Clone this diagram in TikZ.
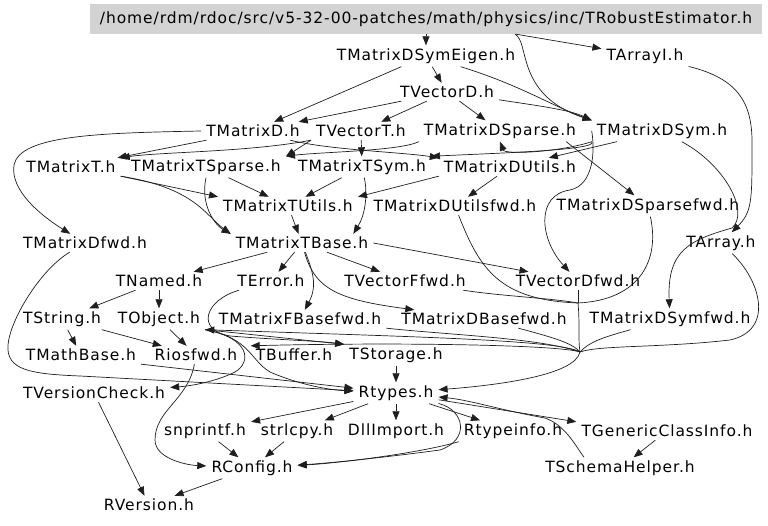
\documentclass[tikz,border=0pt]{standalone}
\usepackage{fontspec}
\usepackage{tikz}
\usetikzlibrary{arrows.meta}
\newfontfamily\dgfont[LetterSpace=6]{DejaVu Sans}
\definecolor{hdrgray}{RGB}{211,211,211}
\definecolor{lngray}{RGB}{30,30,30}

\begin{document}
\begin{tikzpicture}[
  x=1pt, y=-1pt,
  font=\fontsize{15.5}{18}\dgfont,
  fn/.style={inner xsep=5pt, inner ysep=3pt},
  hdr/.style={fn, fill=hdrgray, minimum width=672pt, minimum height=30pt},
  dep/.style={draw=lngray, line width=0.7pt, -{Triangle[length=9pt,width=7pt]}},
  dline/.style={draw=lngray, line width=0.7pt}
]
\useasboundingbox (0,0) rectangle (768,526);

\node[hdr] (root) at (426,19) {/home/rdm/rdoc/src/v5-32-00-patches/math/physics/inc/TRobustEstimator.h};
\node[fn] (dsymeig) at (426,56) {TMatrixDSymEigen.h};
\node[fn] (tarrayi) at (645,56) {TArrayI.h};
\node[fn] (vecd) at (447,92) {TVectorD.h};
\node[fn] (matd) at (253,131) {TMatrixD.h};
\node[fn] (vect) at (361,131) {TVectorT.h};
\node[fn] (dsparse) at (500,131) {TMatrixDSparse.h};
\node[fn] (dsym) at (662,131) {TMatrixDSym.h};
\node[fn] (matt) at (71,167) {TMatrixT.h};
\node[fn] (tsparse) at (206,167) {TMatrixTSparse.h};
\node[fn] (tsym) at (362,167) {TMatrixTSym.h};
\node[fn] (dutils) at (510,167) {TMatrixDUtils.h};
\node[fn] (tutils) at (288,206) {TMatrixTUtils.h};
\node[fn] (dutilsfwd) at (455,206) {TMatrixDUtilsfwd.h};
\node[fn] (dsparsefwd) at (648,206) {TMatrixDSparsefwd.h};
\node[fn] (dfwd) at (85,243) {TMatrixDfwd.h};
\node[fn] (tbase) at (302,243) {TMatrixTBase.h};
\node[fn] (tarray) at (721,243) {TArray.h};
\node[fn] (tnamed) at (159,281) {TNamed.h};
\node[fn] (terror) at (271,281) {TError.h};
\node[fn] (vecffwd) at (405,281) {TVectorFfwd.h};
\node[fn] (vecdfwd) at (578,281) {TVectorDfwd.h};
\node[fn] (tstring) at (62,319) {TString.h};
\node[fn] (tobject) at (159,319) {TObject.h};
\node[fn] (fbasefwd) at (300,319) {TMatrixFBasefwd.h};
\node[fn] (dbasefwd) at (484,319) {TMatrixDBasefwd.h};
\node[fn] (dsymfwd) at (670,319) {TMatrixDSymfwd.h};
\node[fn] (mathbase) at (81,355) {TMathBase.h};
\node[fn] (riosfwd) at (196,355) {Riosfwd.h};
\node[fn] (tbuffer) at (294,355) {TBuffer.h};
\node[fn] (tstorage) at (396,355) {TStorage.h};
\node[fn] (vcheck) at (94,393) {TVersionCheck.h};
\node[fn] (rtypes) at (396,393) {Rtypes.h};
\node[fn] (snprintf) at (205,431) {snprintf.h};
\node[fn] (strlcpy) at (297,431) {strlcpy.h};
\node[fn] (dllimport) at (396,431) {DllImport.h};
\node[fn] (rtypeinfo) at (513,431) {Rtypeinfo.h};
\node[fn] (genclass) at (667,431) {TGenericClassInfo.h};
\node[fn] (rconfig) at (252,468) {RConfig.h};
\node[fn] (schema) at (620,468) {TSchemaHelper.h};
\node[fn] (rversion) at (149,505) {RVersion.h};

% top ranks
\draw[dep] (root) -- (dsymeig);
\draw[dep] (root) -- (tarrayi);
\draw[dep] ([xshift=89pt]root.south) .. controls (530,42) and (515,95) .. (dsym.north west);
\draw[dep] (dsymeig) -- (matd);
\draw[dep] (dsymeig) -- (vecd);
\draw[dep] (dsymeig) .. controls (520,85) and (550,105) .. (dsym.north west);
\draw[dep] (vecd) -- (matd);
\draw[dep] (vecd) -- (vect);
\draw[dep] (vecd) -- (dsparse);
\draw[dep] (vecd) .. controls (540,106) and (570,110) .. (dsym.north west);
\draw[dep] (tarrayi) .. controls (745,80) and (753,110) .. (752,150) .. controls (752,200) and (752,212) .. (tarray);
\draw[dep] (dsym) .. controls (725,165) and (750,212) .. (732,228) .. controls (690,240) and (667,250) .. (dsymfwd);

\draw[dep] (matd) -- (matt);
\draw[dep] (matd.west) .. controls (100,133) and (20,135) .. (14,165) .. controls (10,190) and (40,215) .. (dfwd);
\draw[dep] (matd) .. controls (330,150) and (400,152) .. (dutils.north west);
\draw[dep] (vect.south west) .. controls (250,152) and (160,152) .. (matt.north east);
\draw[dep] (vect.south west) -- (tsparse.north east);
\draw[dep] (vect) -- (tsym);
\draw[dep] (dsparse.south west) .. controls (400,151) and (320,152) .. (tsparse.north east);
\draw[dep] ([xshift=-15pt]dsparse.south east) -- (dsparsefwd);
\draw[dep] (dsym.south west) .. controls (600,150) and (500,153) .. (tsym.north east);
\draw[dep] (dsym.south west) .. controls (560,152) and (505,155) .. (dsparse.south);
\draw[dep] (dsym) -- (dutils);
\draw[dep] (dsym.west) .. controls (595,150) and (594,185) .. (570,190) .. controls (535,195) and (540,240) .. (vecdfwd);

\draw[dep] (matt.south east) -- (tutils.north west);
\draw[dep] (matt.south east) .. controls (195,188) and (205,215) .. (tbase.north west);
\draw[dep] (tsparse) -- (tutils);
\draw[dep] (tsparse.south) .. controls (200,205) and (215,225) .. (tbase.north west);
\draw[dep] (tsym) -- (tutils);
\draw[dep] (tsym) .. controls (368,195) and (365,215) .. ([xshift=-20pt]tbase.north east);
\draw[dep] (dutils) -- (dutilsfwd);
\draw[dep] (dutils.south west) -- (tutils.north east);
\draw[dep] (tutils) -- (tbase);

% matrix base
\draw[dep] (tbase) -- (tnamed);
\draw[dep] (tbase) -- (terror);
\draw[dep] (tbase) -- (vecffwd);
\draw[dep] (tbase.east) -- (vecdfwd);
\draw[dep] (tbase) .. controls (312,270) and (318,285) .. (fbasefwd);
\draw[dep] (tbase) .. controls (315,290) and (340,300) .. (dbasefwd);

% forward headers merge into Rtypes
\coordinate (trunk) at (578,303);
\coordinate (mrg) at (580,352);
\draw[dline] (dutilsfwd) .. controls (480,270) and (500,300) .. (trunk);
\draw[dline] (vecffwd) .. controls (500,296) and (550,298) .. (trunk);
\draw[dline] (vecdfwd) -- (trunk);
\draw[dline] (dsparsefwd) .. controls (660,260) and (640,300) .. (trunk);
\draw[dline] (trunk) .. controls (580,325) and (578,340) .. (mrg);
\draw[dline] (dbasefwd) .. controls (555,338) and (572,343) .. (mrg);
\draw[dline] (dsymfwd) .. controls (600,338) and (588,343) .. (mrg);
\draw[dline] (tarray) .. controls (760,280) and (775,330) .. (730,340) .. controls (660,348) and (600,345) .. (mrg);
\draw[dline] (fbasefwd) .. controls (450,335) and (540,338) .. (mrg);
\draw[dep] (mrg) .. controls (575,375) and (500,385) .. (rtypes);
\draw[dep] (mrg) .. controls (560,340) and (420,337) .. (tobject.south east);
\draw[dep] (mrg) .. controls (560,345) and (400,342) .. (tbuffer.north west);

% core
\draw[dep] (tnamed) -- (tstring);
\draw[dep] (tnamed) -- (tobject);
\draw[dep] (tstring) -- (mathbase);
\draw[dep] (tstring) -- (riosfwd);
\draw[dep] (tobject) -- (riosfwd);
\draw[dep] (tobject.south east) -- (tstorage.north west);
\draw[dep] (terror) .. controls (205,300) and (195,330) .. (230,336) .. controls (280,340) and (320,341) .. (tstorage.north west);
\draw[dep] (tobject.south east) .. controls (250,338) and (252,362) .. (235,372) .. controls (215,382) and (190,386) .. (vcheck);
\draw[dep] (tobject.south east) .. controls (250,338) and (250,360) .. (270,372) .. controls (300,385) and (330,390) .. (rtypes);
\draw[dep] (mathbase.south east) -- (rtypes);
\draw[dep] (dfwd) .. controls (40,270) and (10,320) .. (8,345) .. controls (6,370) and (30,374) .. (80,376) -- (rtypes);
\draw[dep] (tstorage) -- (rtypes);
\draw[dep] (riosfwd) .. controls (188,400) and (155,410) .. (155,440) .. controls (155,458) and (185,465) .. (rconfig);
\draw[dep] (vcheck) -- (rversion);
\draw[dep] (rconfig) -- (rversion);

\draw[dep] (rtypes) -- (snprintf);
\draw[dep] (rtypes) -- (strlcpy);
\draw[dep] (rtypes) -- (dllimport);
\draw[dep] (rtypes) -- (rtypeinfo);
\draw[dep] (rtypes) .. controls (465,410) and (470,440) .. (440,450) .. controls (380,458) and (330,463) .. (rconfig);
\draw[dep] (rtypeinfo.south west) .. controls (420,453) and (340,463) .. (rconfig);
\draw[dep] (snprintf) -- (rconfig);
\draw[dep] (strlcpy) -- (rconfig);
\draw[dep] (rtypes) -- (genclass.north west);
\draw[dep] ([xshift=-36pt]schema.north) .. controls (575,445) and (565,425) .. (545,418) .. controls (500,410) and (470,400) .. (rtypes);
\draw[dep] (genclass) -- (schema);
\end{tikzpicture}
\end{document}
